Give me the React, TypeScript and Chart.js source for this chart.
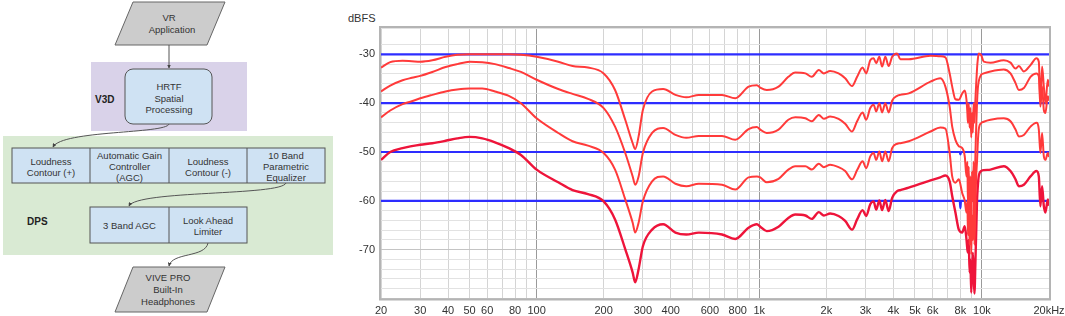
import React, { useEffect, useRef } from 'react';
import { Chart, registerables } from 'chart.js';

Chart.register(...registerables);

// ---------- data ----------
const FREQS = [
  20, 22, 25, 27.5, 30, 34, 39, 44, 50, 57,
  65, 75, 85, 100, 125, 145, 170, 200, 225, 250,
  270, 277, 287, 300, 330, 370, 420, 470, 535, 680,
  780, 895, 975, 1010, 1080, 1220, 1350, 1450, 1610, 1720,
  1850, 1950, 2080, 2270, 2430, 2610, 2750, 2910, 3020, 3150,
  3260, 3350, 3460, 3560, 3680, 3810, 3950, 4160, 4300, 4690,
  5870, 6500, 6850, 7160, 7350, 7600, 7870, 8150, 8370, 8520,
  8600, 8650, 8720, 8800, 8870, 8950, 9020, 9100, 9170, 9250,
  9350, 9420, 9500, 9580, 9670, 9910, 10190, 10920, 12530, 13430,
  14150, 14640, 15420, 16520, 17570, 18000, 18300, 18620, 18960, 19270,
  19760, 20000,
];

const CURVE_A = [
  -32.7, -31.6, -31.3, -31.4, -31.5, -31.2, -30.5, -30.1, -30.0, -30.0,
  -30.0, -30.0, -30.1, -30.5, -31.5, -32.4, -32.7, -33.9, -37.3, -43.4,
  -48.2, -49.4, -46.8, -41.4, -37.6, -37.1, -38.3, -38.8, -38.3, -38.3,
  -39.0, -36.6, -36.3, -36.8, -37.3, -36.6, -34.6, -33.7, -33.9, -34.6,
  -33.2, -33.9, -33.4, -33.9, -34.9, -36.5, -34.6, -32.7, -33.9, -31.2,
  -30.8, -31.8, -30.5, -32.5, -30.5, -32.4, -30.5, -29.8, -31.0, -31.0,
  -30.3, -30.4, -30.6, -33.9, -36.6, -39.2, -39.3, -38.0, -37.4, -39.3,
  -42, -44, -40, -45, -41, -47, -42, -46, -40, -44,
  -39, -36, -33, -31, -29.8, -30.1, -31.5, -31.7, -31.2, -31.7,
  -32.9, -32.4, -33.5, -32.2, -30.8, -31.5, -40, -32.5, -36.6, -40,
  -35.2, -36.6,
];

const CURVE_B = [
  -37.6, -36.4, -35.3, -34.8, -34.4, -33.6, -32.6, -32.0, -31.5, -31.6,
  -32.0, -32.8, -33.6, -35.2, -37.1, -38.1, -39.1, -41.0, -44.8, -50.2,
  -55.0, -56.7, -55.0, -50.2, -46.1, -45.1, -46.5, -47.1, -46.7, -46.7,
  -47.5, -45.3, -44.9, -45.4, -46.1, -45.4, -43.4, -42.9, -43.1, -43.7,
  -42.4, -43.2, -42.7, -43.2, -44.2, -45.8, -43.7, -41.9, -43.4, -41.0,
  -40.3, -41.7, -40.0, -41.9, -40.0, -41.9, -39.5, -38.5, -38.3, -38.0,
  -35.6, -34.9, -36.6, -40.7, -44.8, -47.5, -48.8, -49.2, -50.9, -55,
  -52, -61, -53, -62, -55, -64, -54, -60, -52, -61,
  -50, -45, -40, -37, -35.5, -34.2, -33.9, -33.5, -33.1, -33.9,
  -35.9, -37.3, -36.9, -34.6, -33.9, -34.5, -40.7, -36.6, -41.4, -42,
  -38.6, -39.5,
];

const CURVE_C = [
  -42.9, -41.5, -40.2, -39.6, -39.0, -38.3, -37.6, -37.2, -37.0, -37.0,
  -37.6, -38.5, -40.0, -43.1, -46.1, -47.8, -48.7, -50.2, -53.6, -59.7,
  -64.5, -66.5, -64.5, -60.1, -56.0, -55.0, -56.5, -57.0, -56.5, -56.7,
  -57.7, -55.2, -55.0, -55.2, -56.2, -55.5, -53.6, -52.9, -52.9, -53.6,
  -52.4, -53.1, -52.6, -53.1, -53.9, -55.6, -53.7, -51.9, -53.3, -50.9,
  -50.2, -51.6, -49.9, -51.9, -49.9, -51.9, -49.2, -48.3, -48.2, -47.8,
  -45.8, -45.0, -45.2, -50.2, -55.0, -56.3, -55.6, -58.4, -60.0, -62.4,
  -60, -67, -61, -69, -62, -71, -63, -68, -60, -69,
  -60, -55, -52, -48, -45.4, -44.1, -43.8, -43.4, -43.1, -43.7,
  -45.4, -46.8, -46.5, -44.8, -44.0, -45.4, -50.2, -46.1, -50.9, -51.6,
  -50.2, -51.0,
];

const CURVE_D = [
  -51.6, -50.0, -49.2, -48.8, -48.5, -48.2, -47.7, -47.2, -46.9, -47.2,
  -48.0, -49.2, -50.6, -53.6, -56.2, -57.8, -58.6, -60.1, -63.8, -69.9,
  -74.7, -76.7, -74.0, -69.3, -65.9, -64.8, -66.5, -66.9, -66.5, -66.9,
  -67.8, -65.5, -64.8, -65.3, -66.2, -65.3, -63.5, -62.8, -63.0, -63.7,
  -62.3, -63.0, -62.6, -63.1, -64.1, -65.9, -63.8, -61.9, -63.1, -60.7,
  -60.1, -61.8, -59.9, -61.9, -59.8, -62.1, -59.4, -58.0, -57.8, -57.3,
  -55.8, -55.2, -54.8, -56.0, -59.0, -62.4, -65.9, -66.5, -65.2, -67.9,
  -70, -70.6, -68, -74.7, -72, -78.8, -74, -70.6, -75, -79,
  -72, -66.5, -60, -57, -55, -53.9, -53.7, -53.6, -52.9, -53.9,
  -55.6, -57.0, -56.7, -55.0, -53.9, -55.0, -61.1, -57.0, -61.1, -62.4,
  -59.7, -61.0,
];

const BLUE_FREQS = [20, 7950, 8000, 8050, 20000];
const BLUE_30 = [-30, -30, -30, -30, -30];
const BLUE_40 = [-40, -40, -40, -40, -40];
const BLUE_50 = [-50, -50, -50.5, -50, -50];
const BLUE_60 = [-60, -60, -61.5, -60, -60];

const X_GRID = [
  20, 30, 40, 50, 60, 70, 80, 90,
  100, 200, 300, 400, 500, 600, 700, 800, 900,
  1000, 2000, 3000, 4000, 5000, 6000, 7000, 8000, 9000,
  10000, 20000,
];
const X_MAJOR = [100, 1000, 10000];
const X_TICK_VALUES = [20, 30, 40, 50, 60, 80, 100, 200, 300, 400, 600, 800, 1000, 2000, 3000, 4000, 5000, 6000, 8000, 10000, 20000];
const X_TICK_LABELS = ['20', '30', '40', '50', '60', '80', '100', '200', '300', '400', '600', '800', '1k', '2k', '3k', '4k', '5k', '6k', '8k', '10k', '20kHz'];
const Y_TICK_LABELS = [-30, -40, -50, -60, -70];
const Y_MIN = -80;
const Y_MAX = -24.6;

const FONT = "Arial, 'Liberation Sans', sans-serif";

const pts = (xs: number[], ys: number[]) => xs.map((x, i) => ({ x, y: ys[i] }));

function Diagram() {
  const t = (x: number, y: number, s: string, bold = false, size = 9.5) => (
    <text x={x} y={y} textAnchor="middle" dominantBaseline="central" fontWeight={bold ? 'bold' : 'normal'} fontSize={size}>{s}</text>
  );
  return (
    <svg width={340} height={316} style={{ position: 'absolute', left: 0, top: 0 }} fontFamily={FONT} fill="#333">
      <defs>
        <marker id="ah" markerWidth="4" markerHeight="4" refX="3.5" refY="2" orient="auto" markerUnits="userSpaceOnUse">
          <path d="M0,0 L4,2 L0,4 z" fill="#444" />
        </marker>
      </defs>
      {/* VR Application */}
      <polygon points="133,2 225,2 207,45 115,45" fill="#cccccc" stroke="#666" strokeWidth={1} />
      {t(169, 17, 'VR')}
      {t(172, 29, 'Application')}
      {/* V3D box */}
      <rect x={91} y={62} width={156} height={69} fill="#d9d2e9" />
      <line x1={169} y1={45} x2={169} y2={68} stroke="#555" strokeWidth={1} markerEnd="url(#ah)" />
      <rect x={125} y={69} width={87} height={55} rx={8} ry={8} fill="#cfe2f3" stroke="#555" strokeWidth={1} />
      {t(169, 86, 'HRTF')}
      {t(169, 98, 'Spatial')}
      {t(169, 109.5, 'Processing')}
      <text x={95} y={99} dominantBaseline="central" fontWeight="bold" fontSize={10} fill="#222">V3D</text>
      {/* DPS box */}
      <rect x={3} y={136} width={330} height={119} fill="#d9ead3" />
      <rect x={12} y={148} width={313} height={35} fill="#cfe2f3" stroke="#555" strokeWidth={1} />
      <line x1={90} y1={148} x2={90} y2={183} stroke="#555" strokeWidth={1} />
      <line x1={169} y1={148} x2={169} y2={183} stroke="#555" strokeWidth={1} />
      <line x1={247} y1={148} x2={247} y2={183} stroke="#555" strokeWidth={1} />
      {t(51, 161, 'Loudness')}
      {t(51, 172, 'Contour (+)')}
      {t(129.5, 155, 'Automatic Gain')}
      {t(129.5, 166.5, 'Controller')}
      {t(129.5, 177.5, '(AGC)')}
      {t(208, 161, 'Loudness')}
      {t(208, 172, 'Contour (-)')}
      {t(286, 155, '10 Band')}
      {t(286, 166.5, 'Parametric')}
      {t(286, 177.5, 'Equalizer')}
      <path d="M169,124 C166,134 62,130 53,147" fill="none" stroke="#555" strokeWidth={1} markerEnd="url(#ah)" />
      <rect x={90} y={207} width={157} height={36} fill="#cfe2f3" stroke="#555" strokeWidth={1} />
      <line x1={169} y1={207} x2={169} y2={243} stroke="#555" strokeWidth={1} />
      {t(129.5, 225.5, '3 Band AGC')}
      {t(208, 220.5, 'Look Ahead')}
      {t(208, 231.5, 'Limiter')}
      <path d="M286,183 C281,196 137,190 129,206" fill="none" stroke="#555" strokeWidth={1} markerEnd="url(#ah)" />
      <text x={27} y={221} dominantBaseline="central" fontWeight="bold" fontSize={10} fill="#222">DPS</text>
      {/* output */}
      <path d="M208,243 C205,258 172,252 169,266" fill="none" stroke="#555" strokeWidth={1} markerEnd="url(#ah)" />
      <polygon points="133,267 225,267 207,312 115,312" fill="#cccccc" stroke="#666" strokeWidth={1} />
      {t(168, 277, 'VIVE PRO')}
      {t(168, 289, 'Built-In')}
      {t(168, 301, 'Headphones')}
    </svg>
  );
}

const framePlugin = {
  id: 'frame',
  afterDatasetsDraw(chart: any) {
    const { ctx, chartArea } = chart;
    ctx.save();
    ctx.strokeStyle = '#b4b4b4';
    ctx.lineWidth = 2;
    ctx.strokeRect(chartArea.left - 1, chartArea.top - 1, chartArea.right - chartArea.left + 2, chartArea.bottom - chartArea.top + 2);
    ctx.restore();
  },
};

function ResponseChart() {
  const ref = useRef<HTMLCanvasElement | null>(null);
  useEffect(() => {
    if (!ref.current) return;
    const red = 'rgb(255,58,58)';
    const blue = 'rgb(45,45,255)';
    const line = (data: any, color: string, width: number) => ({
      data,
      borderColor: color,
      backgroundColor: color,
      borderWidth: width,
      pointRadius: 0,
      fill: false,
      cubicInterpolationMode: 'monotone' as const,
    });
    const chart = new Chart(ref.current, {
      type: 'line',
      data: {
        datasets: [
          line(pts(FREQS, CURVE_A), red, 2),
          line(pts(FREQS, CURVE_B), red, 2),
          line(pts(FREQS, CURVE_C), red, 2),
          line(pts(FREQS, CURVE_D), 'rgb(238,20,58)', 2.4),
          line(pts(BLUE_FREQS, BLUE_30), blue, 2.2),
          line(pts(BLUE_FREQS, BLUE_40), blue, 2.2),
          line(pts(BLUE_FREQS, BLUE_50), blue, 2.2),
          line(pts(BLUE_FREQS, BLUE_60), blue, 2.2),
        ],
      },
      options: {
        responsive: false,
        maintainAspectRatio: false,
        animation: false,
        devicePixelRatio: 1,
        layout: { padding: { top: 28, right: 16, bottom: 0, left: 0 } },
        plugins: { legend: { display: false }, tooltip: { enabled: false } },
        events: [],
        scales: {
          x: {
            type: 'logarithmic',
            min: 20,
            max: 20000,
            afterBuildTicks: (scale: any) => {
              scale.ticks = X_GRID.map((v) => ({ value: v }));
            },
            afterFit: (scale: any) => {
              scale.height = 17.5;
              scale.paddingLeft = 0;
              scale.paddingRight = 0;
            },
            border: { display: false },
            grid: {
              drawTicks: false,
              lineWidth: 1,
              color: (ctx: any) => (X_MAJOR.includes(ctx.tick?.value) ? '#9a9a9a' : '#d4d4d4'),
            },
            ticks: {
              autoSkip: false,
              maxRotation: 0,
              minRotation: 0,
              padding: 6,
              color: '#333',
              font: { family: FONT, size: 11 },
              callback: (v: any) => {
                const i = X_TICK_VALUES.indexOf(Number(v));
                return i >= 0 ? X_TICK_LABELS[i] : '';
              },
            },
          },
          y: {
            type: 'linear',
            min: Y_MIN,
            max: Y_MAX,
            afterFit: (scale: any) => {
              scale.width = 41;
            },
            border: { display: false },
            grid: {
              drawTicks: false,
              lineWidth: 1,
              color: (ctx: any) => (ctx.tick && ctx.tick.value % 10 === 0 ? '#c4c4c4' : '#e2e2e2'),
            },
            ticks: {
              stepSize: 2,
              autoSkip: false,
              padding: 6,
              color: '#333',
              font: { family: FONT, size: 11 },
              callback: (v: any) => (Y_TICK_LABELS.includes(Number(v)) ? String(v) : ''),
            },
          },
        },
      } as any,
      plugins: [framePlugin],
    });
    return () => chart.destroy();
  }, []);
  return (
    <canvas
      ref={ref}
      width={725}
      height={316}
      style={{ position: 'absolute', left: 340, top: 0, width: 725, height: 316 }}
    />
  );
}

export default function App() {
  return (
    <div style={{ position: 'fixed', left: 0, top: 0, width: 1065, height: 316, background: '#fff', overflow: 'hidden' }}>
      <Diagram />
      <span style={{ position: 'absolute', left: 348, top: 11, fontFamily: FONT, fontSize: 11, lineHeight: '14px', color: '#333' }}>dBFS</span>
      <ResponseChart />
    </div>
  );
}
